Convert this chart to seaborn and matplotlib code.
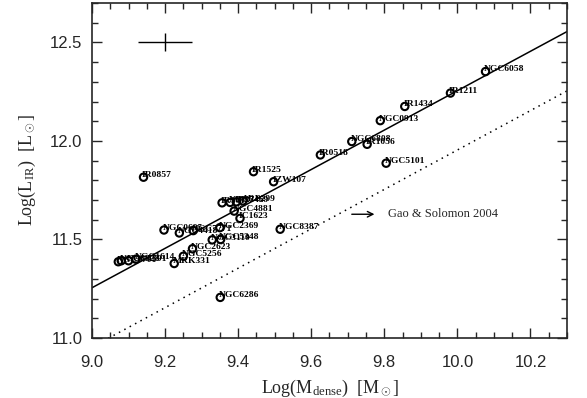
import numpy as np
import pandas as pd
import matplotlib
matplotlib.use("Agg")
import matplotlib.pyplot as plt
import seaborn as sns
from matplotlib.ticker import MultipleLocator

# ---- data ----
names = ["IR0857", "IR1525", "IZW107", "IR1017", "NGC7469", "IR2345", "ARP299",
         "NGC4881", "IC1623", "NGC2369", "NGC0695", "NGC4418", "NGC7771", "NGC8387",
         "NGC3110", "NGC5348", "NGC2623", "NGC5256", "MRK331",
         "NGC6701", "NGC0828", "NGC7591", "NGC1614", "NGC6286",
         "IR0518", "NGC6808", "IR1056", "NGC0913", "IR1434", "IR1211", "NGC6058", "NGC5101"]
log_mdense = [9.141, 9.442, 9.497, 9.356, 9.378, 9.395, 9.413,
              9.389, 9.405, 9.350, 9.197, 9.239, 9.277, 9.515,
              9.329, 9.352, 9.275, 9.250, 9.225,
              9.072, 9.080, 9.100, 9.120, 9.351,
              9.625, 9.711, 9.753, 9.789, 9.856, 9.981, 10.077, 9.805]
log_lir = [11.816, 11.844, 11.793, 11.686, 11.688, 11.691, 11.696,
           11.644, 11.607, 11.560, 11.548, 11.533, 11.545, 11.552,
           11.498, 11.500, 11.453, 11.415, 11.378,
           11.387, 11.392, 11.392, 11.400, 11.206,
           11.929, 11.997, 11.983, 12.103, 12.175, 12.243, 12.352, 11.887]

# fitted relation and Gao & Solomon 2004 relation (end points)
fit_x = [9.0, 10.3]
fit_y = [11.255, 12.555]
gs_x = [9.0, 10.3]
gs_y = [10.954, 12.254]

# typical error bar
err_x, err_y = 9.2, 12.5
err_dx, err_dy = 0.074, 0.046

df = pd.DataFrame({"logM": log_mdense, "logL": log_lir, "name": names})

# ---- figure ----
sns.set_style("ticks")
plt.rcParams["font.family"] = ["Liberation Sans", "DejaVu Sans"]
plt.rcParams["mathtext.fontset"] = "custom"
plt.rcParams["mathtext.rm"] = "Liberation Serif"
plt.rcParams["mathtext.it"] = "Liberation Serif:italic"

fig = plt.figure(figsize=(5.87, 3.98), dpi=100)
ax = fig.add_axes([92 / 587, 60 / 398, 475 / 587, 335 / 398])

sns.lineplot(x=fit_x, y=fit_y, ax=ax, color="black", lw=1.1)
sns.lineplot(x=gs_x, y=gs_y, ax=ax, color="black", lw=1.1, linestyle=(0, (1, 3)))
sns.scatterplot(data=df, x="logM", y="logL", ax=ax, marker="o", s=28,
                facecolor="none", edgecolor="black", linewidth=1.5, zorder=3)

for n, xv, yv in zip(names, log_mdense, log_lir):
    ax.annotate(n, (xv, yv), xytext=(-1, 1.5), textcoords="offset points",
                ha="left", va="center", fontsize=6.8, fontweight="bold",
                family="Liberation Serif", color="black")

ax.errorbar([err_x], [err_y], xerr=[err_dx], yerr=[err_dy], fmt="none",
            ecolor="black", elinewidth=1.0, capsize=0)

ax.annotate("", xy=(9.773, 11.628), xytext=(9.711, 11.628),
            arrowprops=dict(arrowstyle="->", lw=1.0, color="black",
                            shrinkA=0, shrinkB=0))
ax.text(9.811, 11.628, "Gao & Solomon 2004", family="Liberation Serif",
        fontsize=9, ha="left", va="center")

ax.set_xlim(9.0, 10.3)
ax.set_ylim(11.0, 12.7)
ax.xaxis.set_major_locator(MultipleLocator(0.2))
ax.xaxis.set_minor_locator(MultipleLocator(0.05))
ax.yaxis.set_major_locator(MultipleLocator(0.5))
ax.yaxis.set_minor_locator(MultipleLocator(0.1))
ax.tick_params(which="both", direction="in", top=True, right=True, width=1.0)
ax.tick_params(which="major", length=7, labelsize=12)
ax.tick_params(which="minor", length=4)
ax.tick_params(axis="x", pad=12)
ax.tick_params(axis="y", pad=7)
ax.xaxis.set_major_formatter(matplotlib.ticker.FormatStrFormatter("%.1f"))
ax.yaxis.set_major_formatter(matplotlib.ticker.FormatStrFormatter("%.1f"))
for s in ax.spines.values():
    s.set_linewidth(1.2)

ax.set_xlabel(r"Log(M$_{\rm dense}$)  [M$_\odot$]", family="Liberation Serif", fontsize=13)
ax.set_ylabel(r"Log(L$_{\rm IR}$)  [L$_\odot$]", family="Liberation Serif", fontsize=13)
ax.xaxis.set_label_coords(0.5, -0.12)
ax.yaxis.set_label_coords(-0.113, 0.5)

fig.savefig("out.png", dpi=100)
